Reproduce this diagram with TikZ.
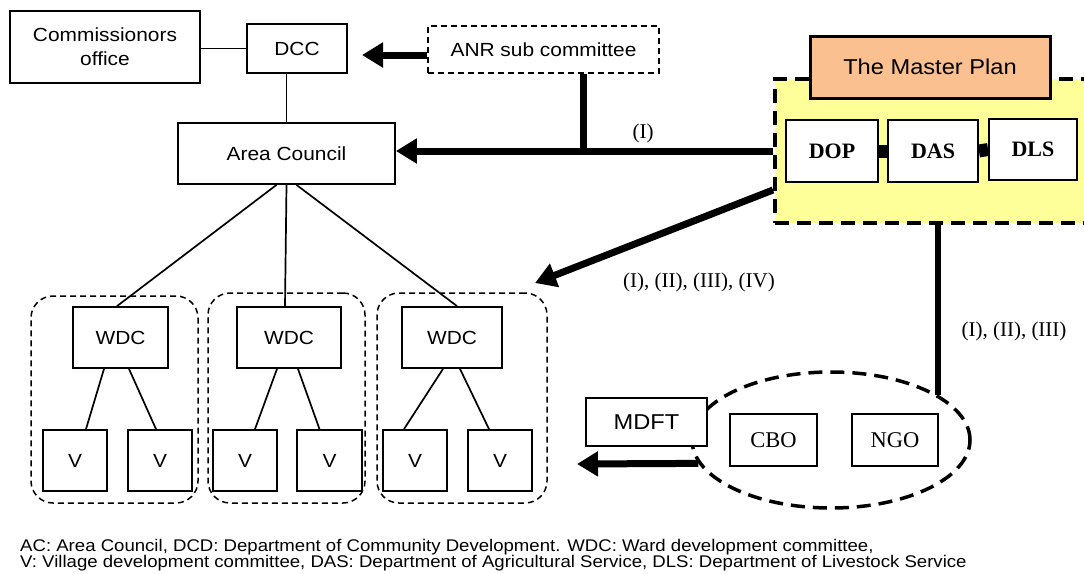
\documentclass[tikz,border=0pt]{standalone}
\usepackage{fontspec}
\setmainfont{Liberation Serif}
\newfontfamily\labfont{Liberation Sans}[FakeStretch=1.1]
\usetikzlibrary{arrows.meta,shapes.geometric}
\definecolor{planyellow}{RGB}{255,255,153}
\definecolor{planorange}{RGB}{250,192,143}

\begin{document}
\begin{tikzpicture}[x=1pt,y=-1pt,
  box/.style={draw,line width=1.8pt,fill=white,inner sep=0pt,align=center,
    font=\labfont\fontsize{19}{24}\selectfont},
  serifbox/.style={draw,line width=1.8pt,fill=white,inner sep=0pt,
    font=\fontsize{22.5}{26}\selectfont},
  deptbox/.style={serifbox,font=\bfseries\fontsize{22}{26}\selectfont},
  group/.style={draw,dashed,dash pattern=on 6pt off 4pt,line width=1.5pt,
    rounded corners=22pt,inner sep=0pt},
  thin/.style={line width=1.7pt},
  bigarrow/.style={line width=7pt,-{Triangle[length=21pt,width=24pt]}},
  tag/.style={font=\fontsize{21}{24}\selectfont,inner sep=0pt},
  note/.style={font=\labfont\fontsize{16.9}{18}\selectfont,inner sep=0pt,anchor=base west}
]
\useasboundingbox (0,0) rectangle (1084,573);
\clip (0,0) rectangle (1084,573);

% ---- upper administrative chain ----
\node[box,minimum width=190pt,minimum height=72pt] (comm) at (105,47) {Commissionors\\office};
\node[box,minimum width=100pt,minimum height=49pt] (dcc) at (297,48.5) {DCC};
\node[box,dashed,dash pattern=on 6pt off 4pt,line width=1.5pt,
      minimum width=231pt,minimum height=47pt] (anr) at (543.5,49.5) {ANR sub committee};
\node[box,minimum width=217pt,minimum height=61pt] (ac) at (286.5,153.5) {Area Council};

\draw[thin] (dcc.west -| comm.east) -- (dcc.west);
\draw[thin] (ac.north) -- (ac.north |- dcc.south);

% ---- master plan block ----
\node[draw,fill=planyellow,line width=4pt,dash pattern=on 14pt off 8pt,
      minimum width=330pt,minimum height=144pt,inner sep=0pt] (plan) at (940,151) {};
\node[draw,fill=planorange,line width=3pt,inner sep=0pt,
      minimum width=240pt,minimum height=62pt,
      font=\labfont\fontsize{21.5}{24}\selectfont] (mp) at (930,67) {The Master Plan};
\node[deptbox,minimum width=92pt,minimum height=62pt] (dop) at (832,151) {DOP};
\node[deptbox,minimum width=90pt,minimum height=62pt] (das) at (933,151) {DAS};
\node[deptbox,minimum width=88pt,minimum height=61pt] (dls) at (1033,149.5) {DLS};
\draw[line width=13pt] (dop.east) -- (das.west);
\draw[line width=13pt] (das.east) -- (dls.west);

% ---- ward groups ----
\node[group,minimum width=167pt,minimum height=207pt] (g1) at (114.5,399.5) {};
\node[group,minimum width=157pt,minimum height=210pt] (g2) at (286.5,398) {};
\node[group,minimum width=170pt,minimum height=210pt] (g3) at (462,398) {};

\node[box,minimum width=95pt,minimum height=61pt] (w1) at (120.5,337.5) {WDC};
\node[box,minimum width=104pt,minimum height=61pt] (w2) at (289,337.5) {WDC};
\node[box,minimum width=100pt,minimum height=61pt] (w3) at (452,337.5) {WDC};

\node[box,minimum width=64pt,minimum height=61pt] (v1) at (75,460.5) {V};
\node[box,minimum width=64pt,minimum height=61pt] (v2) at (160,460.5) {V};
\node[box,minimum width=64pt,minimum height=61pt] (v3) at (245,460.5) {V};
\node[box,minimum width=65pt,minimum height=61pt] (v4) at (329.5,460.5) {V};
\node[box,minimum width=64pt,minimum height=61pt] (v5) at (415,460.5) {V};
\node[box,minimum width=64pt,minimum height=61pt] (v6) at (500,460.5) {V};

\draw[thin] ([xshift=-10pt]ac.south) -- ([xshift=-3.5pt]w1.north);
\draw[thin] (ac.south) -- ([xshift=-4pt]w2.north);
\draw[thin] ([xshift=10pt]ac.south) -- ([xshift=5pt]w3.north);

\draw[thin] ([xshift=-16.5pt]w1.south) -- ([xshift=11pt]v1.north);
\draw[thin] ([xshift=8.5pt]w1.south) -- ([xshift=-4pt]v2.north);
\draw[thin] ([xshift=-12pt]w2.south) -- ([xshift=10pt]v3.north);
\draw[thin] ([xshift=9pt]w2.south) -- ([xshift=-10pt]v4.north);
\draw[thin] ([xshift=-9pt]w3.south) -- ([xshift=-11pt]v5.north);
\draw[thin] ([xshift=8pt]w3.south) -- ([xshift=-11pt]v6.north);

% ---- community organisations ----
\node[draw,ellipse,dash pattern=on 14pt off 8pt,line width=3.5pt,inner sep=0pt,
      minimum width=278pt,minimum height=136pt] (ell) at (831,440) {};
\node[box,minimum width=121pt,minimum height=48pt,
      font=\labfont\fontsize{21.5}{24}\selectfont] (mdft) at (646.5,422) {MDFT};
\node[serifbox,minimum width=87pt,minimum height=52pt] (cbo) at (773.5,440) {CBO};
\node[serifbox,minimum width=86pt,minimum height=52pt] (ngo) at (895,440) {NGO};

% ---- flows ----
\coordinate (jn) at (583,152);
\coordinate (dcctip) at (362,55);
\coordinate (grptip) at (535,283);
\coordinate (vtip) at (577,464);

\draw[bigarrow] ([yshift=-5.5pt]anr.west) -- (dcctip);
\draw[bigarrow] (plan.west) -- (plan.west -| ac.east);
\draw[line width=7pt] (anr.south -| jn) -- (jn);
\draw[bigarrow] ([yshift=-39pt]plan.west) -- (grptip);
\draw[line width=6pt] (plan.south -| ell.23.4) -- (ell.23.4);
\draw[bigarrow] (ell.190.5) -- (vtip);

\node[tag] (l1) at (643,133) {(I)};
\node[tag] (l2) at (699,282) {(I), (II), (III), (IV)};
\node[tag] (l3) at (1014,331) {(I), (II), (III)};

% ---- legend ----
\node[note] (n1) at (20,551) {AC: Area Council, DCD: Department of Community Development. WDC: Ward development committee,};
\node[note] (n2) at (20,567) {V: Village development committee, DAS: Department of Agricultural Service, DLS: Department of Livestock Service};
\end{tikzpicture}
\end{document}
